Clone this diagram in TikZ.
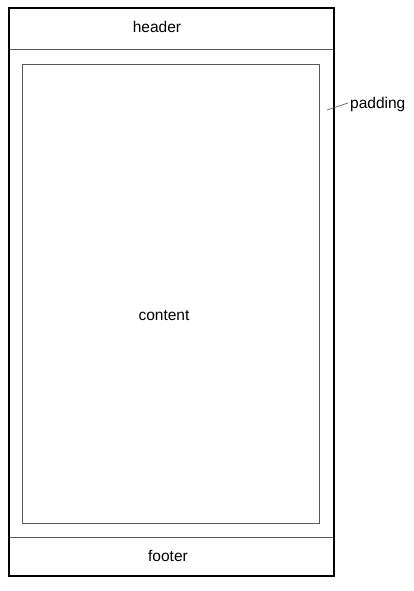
\documentclass[tikz,border=0pt]{standalone}
\usepackage{fontspec}
\setmainfont{Liberation Sans}
\begin{document}
\begin{tikzpicture}[x=1pt,y=-1pt,
  frame/.style={draw=black,line width=2pt},
  sep/.style={draw=black!65,line width=1pt},
  lbl/.style={font=\fontsize{15.5}{18}\selectfont,inner sep=0pt,text=black}]
\useasboundingbox (0,0) rectangle (413,591);
\draw[frame] (9,8) rectangle (334,576);
\draw[sep] (10,50) -- (333,50);
\draw[sep] (10,537) -- (333,537);
\draw[sep] (22.5,64.5) rectangle (319.5,523);
\node[lbl] (header) at (157,27) {header};
\node[lbl] (content) at (164,316) {content};
\node[lbl] (footer) at (168,556) {footer};
\node[lbl,anchor=west] (padding) at (350,104) {padding};
\coordinate (pad) at (327,110);
\coordinate (padend) at (348,103);
\draw[black!70,line width=0.6pt] (pad) -- (padend);
\end{tikzpicture}
\end{document}
